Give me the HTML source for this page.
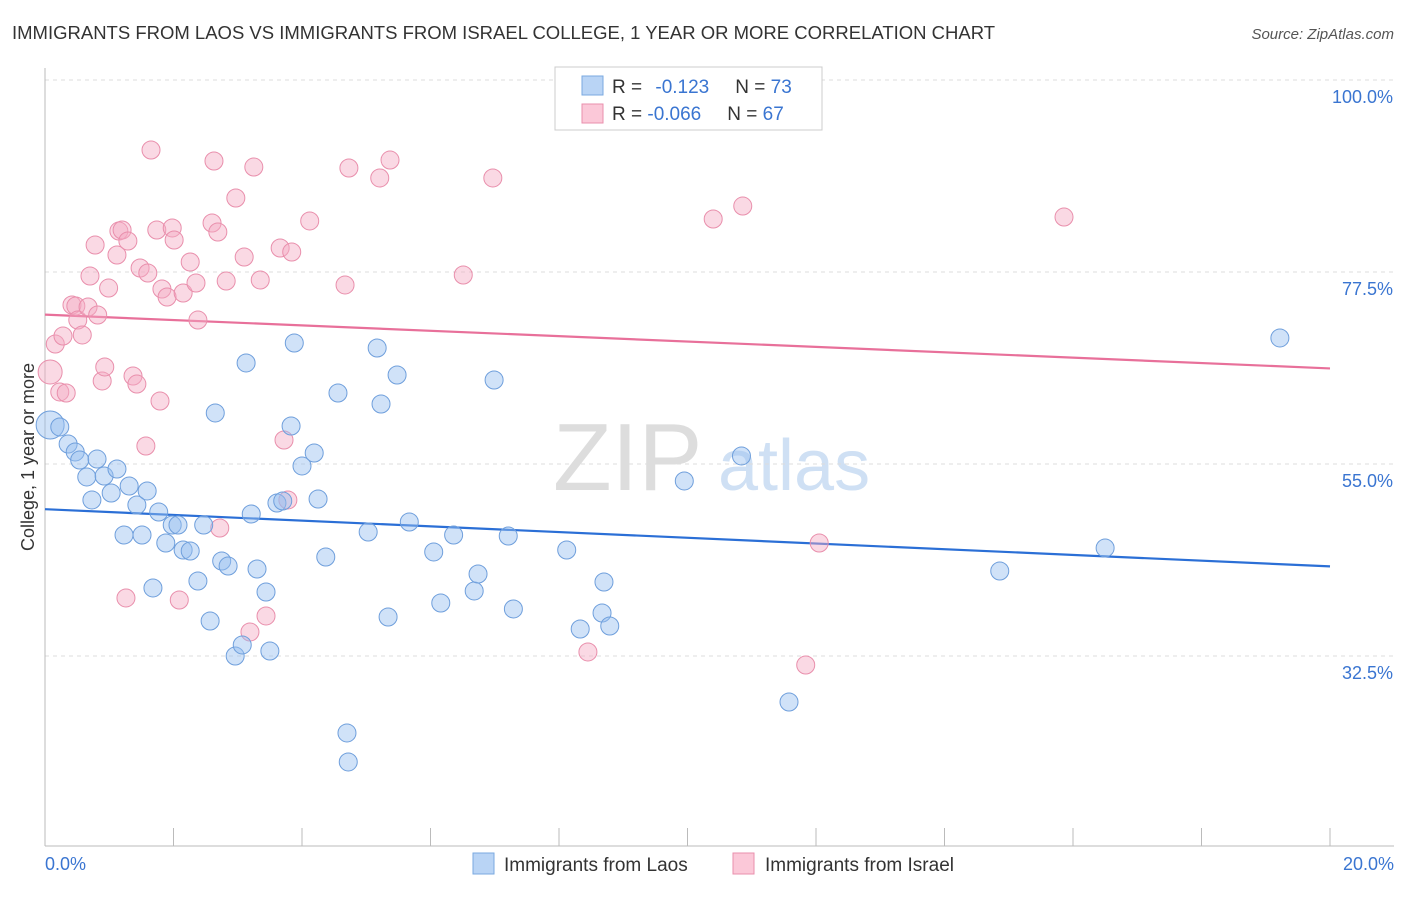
<!DOCTYPE html>
<html><head><meta charset="utf-8"><style>
body{margin:0;background:#fff;font-family:"Liberation Sans",sans-serif}
svg text{font-family:"Liberation Sans",sans-serif}
</style></head><body>
<svg id="chart" width="1406" height="892">
<text x="12" y="39" font-size="18.5" fill="#333">IMMIGRANTS FROM LAOS VS IMMIGRANTS FROM ISRAEL COLLEGE, 1 YEAR OR MORE CORRELATION CHART</text>
<text x="1394" y="39" font-size="15" fill="#555" font-style="italic" text-anchor="end">Source: ZipAtlas.com</text>
<g><text x="553" y="490" font-size="96" font-family="Liberation Serif" fill="#ddd">ZIP</text><text x="718" y="490" font-size="72" fill="#cfe0f4">atlas</text></g>
<g id="grid"></g><g id="axes"></g><g id="trend"></g><g id="pts"></g>
<text transform="translate(34,457) rotate(-90)" font-size="18" fill="#333" text-anchor="middle">College, 1 year or more</text>
<g>
<rect x="555" y="67" width="267" height="63" fill="#fff" stroke="#ccc"/>
<rect x="582" y="76" width="21" height="19" fill="#b9d4f5" stroke="#7aa9e0"/>
<rect x="582" y="104" width="21" height="19" fill="#fbc8d8" stroke="#e98fac"/>
<text x="612" y="93" font-size="19" fill="#333">R = <tspan fill="#3a75d1" dx="8">-0.123</tspan><tspan fill="#333" dx="26">N = </tspan><tspan fill="#3a75d1">73</tspan></text>
<text x="612" y="120" font-size="19" fill="#333">R = <tspan fill="#3a75d1">-0.066</tspan><tspan fill="#333" dx="26">N = </tspan><tspan fill="#3a75d1">67</tspan></text>
</g>
<g>
<rect x="473" y="853" width="21" height="21" fill="#b9d4f5" stroke="#7aa9e0"/>
<text x="504" y="871" font-size="19" fill="#333">Immigrants from Laos</text>
<rect x="733" y="853" width="21" height="21" fill="#fbc8d8" stroke="#e98fac"/>
<text x="765" y="871" font-size="19" fill="#333">Immigrants from Israel</text>
</g>
</svg>
<script>
const NS="http://www.w3.org/2000/svg";
const yTicks=[32.5,55.0,77.5,100.0];
const yTickLabels=["32.5%","55.0%","77.5%","100.0%"];
const xTicks=[0,2,4,6,8,10,12,14,16,18,20];
const laosX=[.08,.23,.36,.47,.54,.65,.73,.81,.92,1.03,1.12,1.23,1.31,1.43,1.51,1.59,1.68,1.77,1.88,1.98,2.07,2.15,2.26,2.38,2.47,2.57,2.65,2.75,2.85,2.96,3.07,3.13,3.21,3.30,3.44,3.50,3.61,3.70,3.83,3.88,4.00,4.19,4.25,4.37,4.56,4.70,4.72,5.03,5.17,5.23,5.34,5.48,5.67,6.05,6.16,6.36,6.68,6.74,6.99,7.21,7.29,8.12,8.33,8.67,8.70,8.79,9.95,10.84,11.58,14.86,16.50,19.22];
const laosY=[59.57,59.34,57.34,56.41,55.47,53.48,50.78,55.58,53.59,51.60,54.41,46.68,52.42,50.19,46.68,51.84,40.47,49.37,45.74,47.85,47.85,44.92,44.80,41.29,47.85,36.60,60.98,43.63,43.04,32.50,33.79,66.84,49.14,42.69,40.00,33.08,50.43,50.66,59.45,69.18,54.77,56.29,50.90,44.10,63.32,23.48,20.08,47.03,68.59,62.03,37.07,65.43,48.20,44.69,38.71,46.68,40.12,42.11,64.84,46.56,38.01,44.92,35.66,37.54,41.17,36.01,53.01,55.94,27.11,42.46,45.16,69.77];
const israelX=[.08,.16,.23,.28,.33,.42,.48,.51,.58,.67,.70,.78,.82,.89,.93,.99,1.12,1.15,1.20,1.26,1.29,1.37,1.43,1.48,1.60,1.57,1.65,1.74,1.79,1.82,1.90,1.98,2.01,2.09,2.15,2.26,2.35,2.38,2.60,2.63,2.69,2.72,2.82,2.97,3.10,3.19,3.25,3.35,3.44,3.66,3.72,3.78,3.84,4.12,4.67,4.73,5.21,5.37,6.51,6.97,8.45,10.40,10.86,11.84,12.05,15.86];
const israelY=[65.78,69.06,63.44,70.00,63.32,73.63,73.52,71.87,70.12,73.40,77.03,80.66,72.46,64.73,66.37,75.62,79.49,82.30,82.42,39.30,81.13,65.31,64.37,77.97,77.38,57.11,91.80,82.42,62.38,75.51,74.57,82.66,81.25,39.06,75.04,78.67,76.21,71.87,83.24,90.51,82.19,47.50,76.44,86.17,79.26,35.31,89.80,76.56,37.19,80.31,57.81,50.78,79.84,83.48,75.98,89.69,88.52,90.62,77.15,88.52,32.97,83.71,85.23,31.44,45.74,83.94];
const laosTrend=[49.7,43.0];
const israelTrend=[72.5,66.2];
const X=v=>45+v/20*1285;
const Y=v=>80+(100-v)*8.533;
function mk(t,a,p){const e=document.createElementNS(NS,t);for(const k in a)e.setAttribute(k,a[k]);p.appendChild(e);return e;}
const grid=document.getElementById('grid'),axes=document.getElementById('axes');
yTicks.forEach((v,i)=>{
 const l=mk('line',{x1:45,x2:1394,y1:Y(v),y2:Y(v),stroke:'#ddd','stroke-dasharray':'4,4'},grid);
 
 
 const t=mk('text',{x:1393,y:Y(v)+23,'font-size':18,fill:'#3a75d1','text-anchor':'end'},axes);
 t.textContent=yTickLabels[i];
 
 
});
mk('line',{x1:45,x2:45,y1:68,y2:846,stroke:'#bbb'},axes);
mk('line',{x1:45,x2:1394,y1:846,y2:846,stroke:'#bbb'},axes);
xTicks.forEach(v=>{const l=mk('line',{x1:X(v),x2:X(v),y1:828,y2:846,stroke:'#bbb'},axes);
 
 });
let t0=mk('text',{x:45,y:870,'font-size':18,fill:'#3a75d1'},axes);t0.textContent='0.0%';


let t1=mk('text',{x:1394,y:870,'font-size':18,fill:'#3a75d1','text-anchor':'end'},axes);t1.textContent='20.0%';


const pts=document.getElementById('pts');
function series(xs,ys,fill,stroke,name){xs.forEach((x,i)=>{const big=i===0;
 const c=mk('circle',{cx:X(x),cy:Y(ys[i]),r:big?(name==='laos-point'?14:12):9,fill:fill,stroke:stroke,'stroke-width':1},pts);
 
 });}
series(israelX,israelY,'rgba(245,170,195,0.45)','#e98fac','israel-point');
series(laosX,laosY,'rgba(150,190,240,0.45)','#6f9fdc','laos-point');
const tr=document.getElementById('trend');
const lb=mk('line',{x1:X(0),x2:X(20),y1:Y(laosTrend[0]),y2:Y(laosTrend[1]),stroke:'#2b6fd6','stroke-width':2.2},tr);


const lp=mk('line',{x1:X(0),x2:X(20),y1:Y(israelTrend[0]),y2:Y(israelTrend[1]),stroke:'#e8709a','stroke-width':2.2},tr);


</script>
</body></html>
